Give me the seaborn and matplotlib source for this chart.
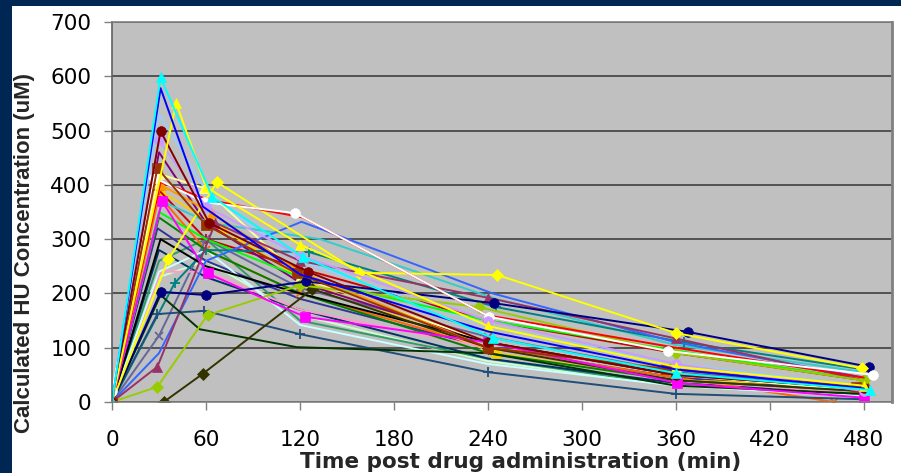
import numpy as np
import pandas as pd
import matplotlib
matplotlib.use("Agg")
import matplotlib.pyplot as plt
from matplotlib.patches import Rectangle
import seaborn as sns

# ---------------- data ----------------
patients = [
    "P01", "P02", "P03", "P04", "P05", "P06", "P07", "P08", "P09", "P10",
    "P11", "P12", "P13", "P14", "P15", "P16", "P17", "P18", "P19", "P20",
    "P21", "P22", "P23", "P24", "P25", "P26", "P27", "P28", "P29", "P30",
    "P31", "P32", "P33", "P34", "P35", "P36",
]

sample_times = [
    [0, 30, 60, 120, 240, 360, 480],   # P01 light green
    [0, 30, 60, 120, 240, 360, 480],   # P02 sea green
    [0, 30, 60, 120, 240, 360, 480],   # P03 dark teal
    [0, 29, 60, 120, 240, 360, 480],   # P04 indigo
    [0, 30, 60, 120, 240, 360, 461],   # P05 dark orange x
    [0, 30, 70, 125, 245, 360, 480],   # P06 gold square
    [0, 30, 60, 119, 240, 360, 480],   # P07 firebrick +
    [0, 30, 60, 120, 240, 360, 480],   # P08 blue-gray x
    [0, 30, 62, 120, 240, 360, 480],   # P09 pale blue
    [0, 30, 60, 120, 240, 360, 480],   # P10 purple
    [0, 31, 60, 120, 240, 360, 480],   # P11 rose
    [0, 30, 60, 120, 240, 360, 480],   # P12 light cyan
    [0, 30, 60, 120, 240, 360, 480],   # P13 green
    [0, 30, 60, 120, 240, 360, 480],   # P14 lime
    [0, 32, 62, 133, 245, 360, 480],   # P15 turquoise
    [0, 40, 60, 126, 245, 365, 480],   # P16 teal +
    [0, 30, 59, 120, 240, 360, 480],   # P17 light yellow triangle
    [0, 31, 60, 120, 240, 360, 480],   # P18 black
    [0, 31, 64, 120, 240, 360, 480],   # P19 orange triangle
    [0, 30, 60, 121, 243, 360, 480],   # P20 royal blue
    [0, 29, 66, 120, 240, 360, 480],   # P21 plum triangle
    [0, 29, 59, 120, 240, 360, 480],   # P22 slate +
    [0, 31, 56, 118, 240, 360, 480],   # P23 dark green
    [0, 33, 58, 128, 240, 360, 480],   # P24 dark olive diamond
    [0, 29, 61, 120, 234, 360, 480],   # P25 yellow-green diamond
    [0, 32, 61, 123, 240, 361, 480],   # P26 magenta square
    [0, 31, 60, 124, 244, 368, 483],   # P27 navy circle
    [0, 36, 67, 158, 246, 360, 479],   # P28 yellow diamond
    [0, 31, 62, 122, 239, 360, 480],   # P29 red
    [0, 27, 59, 117, 241, 355, 486],   # P30 white circle
    [0, 29, 60, 118, 240, 354, 475],   # P31 brown square
    [0, 30, 60, 120, 240, 360, 480],   # P32 lavender circle
    [0, 31, 62, 125, 240, 360, 480],   # P33 maroon circle
    [0, 41, 60, 120, 240, 360, 480],   # P34 yellow triangle
    [0, 31, 58, 120, 240, 360, 480],   # P35 blue
    [0, 31, 64, 122, 243, 360, 484],   # P36 cyan triangle
]

concentrations = [
    [0, 230, 260, 160, 75, 30, 10],
    [0, 260, 300, 150, 80, 30, 15],
    [0, 280, 230, 170, 80, 35, 15],
    [0, 320, 260, 190, 100, 45, 20],
    [0, 380, 280, 200, 100, 45, 0],
    [0, 390, 320, 220, 90, 40, 30],
    [0, 390, 300, 247, 150, 90, 40],
    [0, 122, 300, 210, 120, 55, 25],
    [0, 530, 380, 260, 140, 70, 30],
    [0, 460, 330, 220, 110, 50, 20],
    [0, 240, 240, 170, 100, 40, 15],
    [0, 240, 280, 142, 70, 30, 10],
    [0, 340, 280, 200, 90, 40, 20],
    [0, 350, 300, 230, 150, 95, 40],
    [0, 370, 330, 300, 190, 105, 55],
    [0, 219, 280, 276, 175, 110, 60],
    [0, 420, 394, 230, 110, 50, 20],
    [0, 300, 250, 200, 110, 50, 25],
    [0, 400, 348, 240, 100, 60, 30],
    [0, 90, 260, 332, 200, 110, 45],
    [0, 65, 330, 260, 192, 117, 40],
    [0, 162, 168, 125, 55, 15, 5],
    [0, 197, 134, 101, 90, 30, 15],
    [0, 0, 52, 208, 100, 40, 20],
    [0, 28, 160, 215, 175, 90, 40],
    [0, 370, 237, 157, 110, 35, 8],
    [0, 203, 197, 222, 182, 129, 65],
    [0, 263, 405, 238, 234, 127, 62],
    [0, 405, 372, 340, 160, 100, 45],
    [20, 413, 368, 348, 157, 94, 50],
    [0, 431, 326, 237, 100, 61, 28],
    [0, 482, 360, 270, 150, 70, 20],
    [0, 499, 330, 240, 110, 50, 25],
    [0, 551, 396, 290, 140, 65, 30],
    [0, 578, 360, 235, 130, 60, 25],
    [0, 598, 378, 267, 118, 53, 22],
]

series_colors = [
    "#CCFFCC", "#339966", "#003366", "#333399", "#FF6600", "#FFCC00",
    "#CC0000", "#666699", "#99CCFF", "#800080", "#FF99CC", "#CCFFFF",
    "#008000", "#00FF00", "#33CCCC", "#008080", "#FFFF99", "#000000",
    "#FF9900", "#3366FF", "#993366", "#1F4E79", "#003300", "#333300",
    "#99CC00", "#FF00FF", "#000080", "#FFFF00", "#FF0000", "#FFFFFF",
    "#993300", "#CC99FF", "#800000", "#FFFF00", "#0000FF", "#00FFFF",
]

series_markers = [
    "", "", "", "", "x", "s", "+", "x", "", "", "", "",
    "", "", "", "+", "^", "", "^", "", "^", "+", "", "D",
    "D", "s", "o", "D", "", "o", "s", "o", "o", "^", "", "^",
]

y_ticks = [0, 100, 200, 300, 400, 500, 600, 700]
x_ticks = [0, 60, 120, 180, 240, 300, 360, 420, 480]

marker_sizes = {"o": 7, "s": 6.5, "^": 7.5, "D": 6, "+": 7, "x": 6}

# ---------------- figure ----------------
sns.set_style("white")
plt.rcParams["font.family"] = ["DejaVu Sans"]

fig = plt.figure(figsize=(9.01, 4.73), dpi=100, facecolor="#002654")
fig.add_artist(Rectangle((12 / 901, 0), 1, 467 / 473, transform=fig.transFigure,
                         facecolor="white", edgecolor="none", zorder=-10))
ax = fig.add_axes([112 / 901, 71 / 473, 780 / 901, 380 / 473])
ax.set_facecolor("#C0C0C0")

records = []
for p, ts, cs in zip(patients, sample_times, concentrations):
    for t, c in zip(ts, cs):
        records.append({"patient": p, "time": t, "conc": c})
df = pd.DataFrame(records)

for p, col, mk in zip(patients, series_colors, series_markers):
    sub = df[df["patient"] == p]
    sns.lineplot(data=sub, x="time", y="conc", color=col, marker=mk if mk else None,
                 markersize=marker_sizes.get(mk, 6),
                 markeredgecolor=col, markeredgewidth=1.3 if mk in ("+", "x") else 0.5,
                 linewidth=1.4, sort=False, estimator=None, ax=ax, legend=False)

ax.set_xlim(0, 498)
ax.set_ylim(0, 700)
ax.set_xticks(x_ticks)
ax.set_yticks(y_ticks)
ax.tick_params(axis="both", which="major", direction="out", length=6, width=1,
               color="#808080", labelsize=15.5, labelcolor="black", pad=9,
               bottom=True, left=True)
ax.tick_params(axis="x", pad=14)
ax.grid(axis="y", color="#404040", linewidth=1.2)
ax.grid(axis="x", visible=False)
ax.set_axisbelow(True)
for side in ["top", "bottom", "left", "right"]:
    ax.spines[side].set_visible(True)
    ax.spines[side].set_color("#808080")
    ax.spines[side].set_linewidth(1.2)
ax.spines["right"].set_linewidth(2)
ax.spines["left"].set_color("#606060")

ax.set_xlabel("Time post drug administration (min)", fontsize=15.5, fontweight="bold",
              family="DejaVu Sans")
ax.set_ylabel("Calculated HU Concentration (uM)", fontsize=16, fontweight="bold",
              family="Liberation Sans")
ax.xaxis.label.set_va("center")
ax.yaxis.label.set_va("center")
ax.xaxis.set_label_coords(521 / 901, 1 - 462 / 473, transform=fig.transFigure)
ax.yaxis.set_label_coords(25 / 901, 1 - 253 / 473, transform=fig.transFigure)

fig.savefig("out.png", dpi=100, facecolor=fig.get_facecolor())
